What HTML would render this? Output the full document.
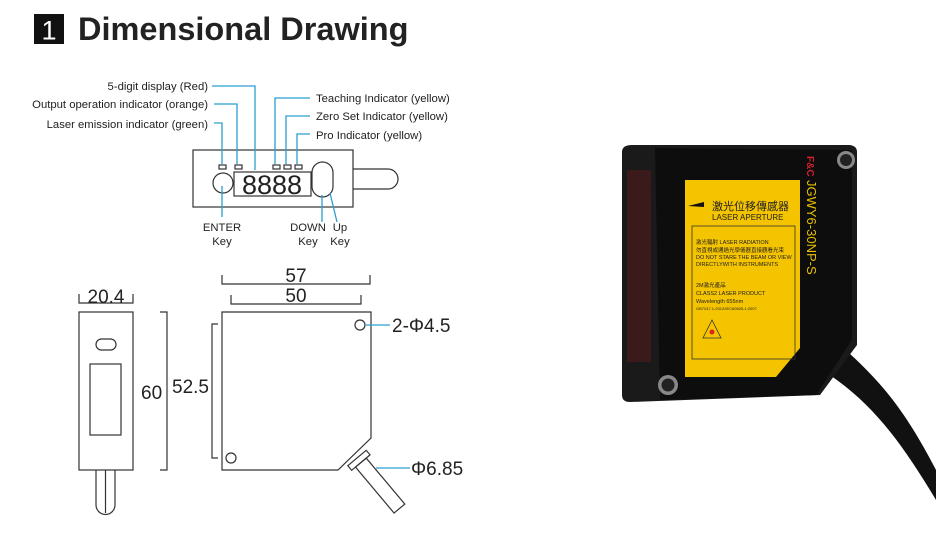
<!DOCTYPE html>
<html><head><meta charset="utf-8"><style>
html,body{margin:0;padding:0;background:#fff}
svg{display:block}
text{font-family:"Liberation Sans","Noto Sans CJK TC",sans-serif}
</style></head><body>
<svg width="936" height="534" viewBox="0 0 936 534" xmlns="http://www.w3.org/2000/svg">
<rect x="34" y="14" width="30" height="30" fill="#111"/>
<text x="49" y="39.5" font-size="27" fill="#fff" text-anchor="middle">1</text>
<text x="78" y="40" font-size="32.5" font-weight="bold" fill="#222">Dimensional Drawing</text>

<g fill="none" stroke="#333" stroke-width="1.2">
<rect x="193" y="150" width="160" height="57"/>
<path d="M353 169 H388 A10 10 0 0 1 388 189 H353"/>
<rect x="219" y="165" width="7" height="4"/><rect x="235" y="165" width="7" height="4"/>
<rect x="273" y="165" width="7" height="4"/><rect x="284" y="165" width="7" height="4"/><rect x="295" y="165" width="7" height="4"/>
<rect x="234" y="172" width="77" height="24"/>
<circle cx="223" cy="183" r="10"/>
<rect x="312" y="162" width="21" height="35" rx="10.5"/>
</g>
<text x="272" y="194" font-size="27" fill="#222" text-anchor="middle">8888</text>
<g fill="none" stroke="#2a9fd0" stroke-width="1.3">
<path d="M212 86 H255 V170"/><path d="M214 104 H237 V164"/><path d="M214 123 H222 V164"/>
<path d="M310 98 H275 V164"/><path d="M310 116 H286 V164"/><path d="M310 134 H297 V164"/>
<path d="M222 186 V217"/><path d="M322 195 V222"/><path d="M330 193 L337 222"/>
</g>
<g font-size="11.3" fill="#222">
<text x="208" y="90" text-anchor="end">5-digit display (Red)</text>
<text x="208" y="108" text-anchor="end">Output operation indicator (orange)</text>
<text x="208" y="128" text-anchor="end">Laser emission indicator (green)</text>
<text x="316" y="102">Teaching Indicator (yellow)</text>
<text x="316" y="120">Zero Set Indicator (yellow)</text>
<text x="316" y="139">Pro Indicator (yellow)</text>
<text x="222" y="231" text-anchor="middle">ENTER</text><text x="222" y="245" text-anchor="middle">Key</text>
<text x="308" y="231" text-anchor="middle">DOWN</text><text x="308" y="245" text-anchor="middle">Key</text>
<text x="340" y="231" text-anchor="middle">Up</text><text x="340" y="245" text-anchor="middle">Key</text>
</g>

<g fill="none" stroke="#333" stroke-width="1.2">
<rect x="79" y="312" width="54" height="158"/>
<rect x="96" y="339" width="20" height="11" rx="5.5"/>
<rect x="90" y="364" width="31" height="71"/>
<path d="M96 470 V505 A9.5 9.5 0 0 0 115 505 V470 M105.5 470 V513"/>
<path d="M79 294 V303 H133 V294"/>
<path d="M160 312 H167 V470 H160"/>
<path d="M222 312 H371 V438 L338 470 H222 Z"/>
<path d="M218 324 H212 V458 H218"/>
<path d="M222 275 V284 H370 V275"/>
<path d="M231 295 V304 H361 V295"/>
<circle cx="360" cy="325" r="5"/><circle cx="231" cy="458" r="5"/>
<g transform="translate(357,458) rotate(-40)">
<rect x="-12" y="0" width="24" height="6"/>
<rect x="-7" y="6" width="14" height="60"/>
</g>
</g>
<g stroke="#2a9fd0" stroke-width="1.3"><path d="M366 325 H390"/><path d="M376 468 H410"/></g>
<g font-size="19" fill="#222">
<text x="106" y="303" text-anchor="middle">20.4</text>
<text x="141" y="399">60</text>
<text x="209" y="393" text-anchor="end">52.5</text>
<text x="296" y="282" text-anchor="middle">57</text>
<text x="296" y="302" text-anchor="middle">50</text>
<text x="392" y="332">2-Φ4.5</text>
<text x="411" y="475">Φ6.85</text>
</g>

<path d="M840 345 C880 380 905 410 936 470 L936 500 C900 440 870 400 822 370 Z" fill="#111"/>
<path d="M632 145 L850 145 Q857 146 857 152 L857 345 L820 395 L630 402 Q622 402 622 395 L622 152 Q622 145 632 145 Z" fill="#1a1a1a"/>
<rect x="627" y="170" width="24" height="192" fill="#3a1a1a"/>
<path d="M655 148 L852 150 L852 340 L816 395 L660 400 Z" fill="#0d0d0d"/>
<path d="M685 180 H800 V348 L776 377 H685 Z" fill="#f5c400"/>
<rect x="692" y="226" width="103" height="133" fill="none" stroke="#333" stroke-width="0.8"/>
<path d="M688 206 L704 202 V207 Z" fill="#111"/>
<text x="712" y="210" font-size="11" fill="#222">激光位移傳感器</text>
<text x="712" y="220" font-size="8" fill="#222">LASER APERTURE</text>
<g font-size="5.5" fill="#222">
<text x="696" y="244">激光輻射  LASER RADIATION</text>
<text x="696" y="252">勿直視或通過光學儀器直接觀看光束</text>
<text x="696" y="259">DO NOT STARE THE BEAM OR VIEW</text>
<text x="696" y="266">DIRECTLYWITH INSTRUMENTS</text>
<text x="696" y="287">2M激光產品</text>
<text x="696" y="295">CLASS2 LASER PRODUCT</text>
<text x="696" y="303">Wavelength 655nm</text>
<text x="696" y="310" font-size="4">GB7247.1-2012/IEC60825-1:2007</text>
</g>
<path d="M712 320 L703 338 H721 Z" fill="none" stroke="#333" stroke-width="0.8"/>
<circle cx="712" cy="332" r="2.5" fill="#d22"/>
<text transform="translate(807,180) rotate(90)" font-size="13" fill="#e8c000">JGWY6-30NP-S</text>
<text transform="translate(807,180) rotate(90)" x="-24" font-size="10" fill="#d02030" font-weight="bold">F&amp;C</text>
<circle cx="846" cy="160" r="9" fill="#888"/><circle cx="846" cy="160" r="6" fill="#222"/>
<circle cx="668" cy="385" r="10" fill="#888"/><circle cx="668" cy="385" r="6.5" fill="#222"/>
</svg>
</body></html>
